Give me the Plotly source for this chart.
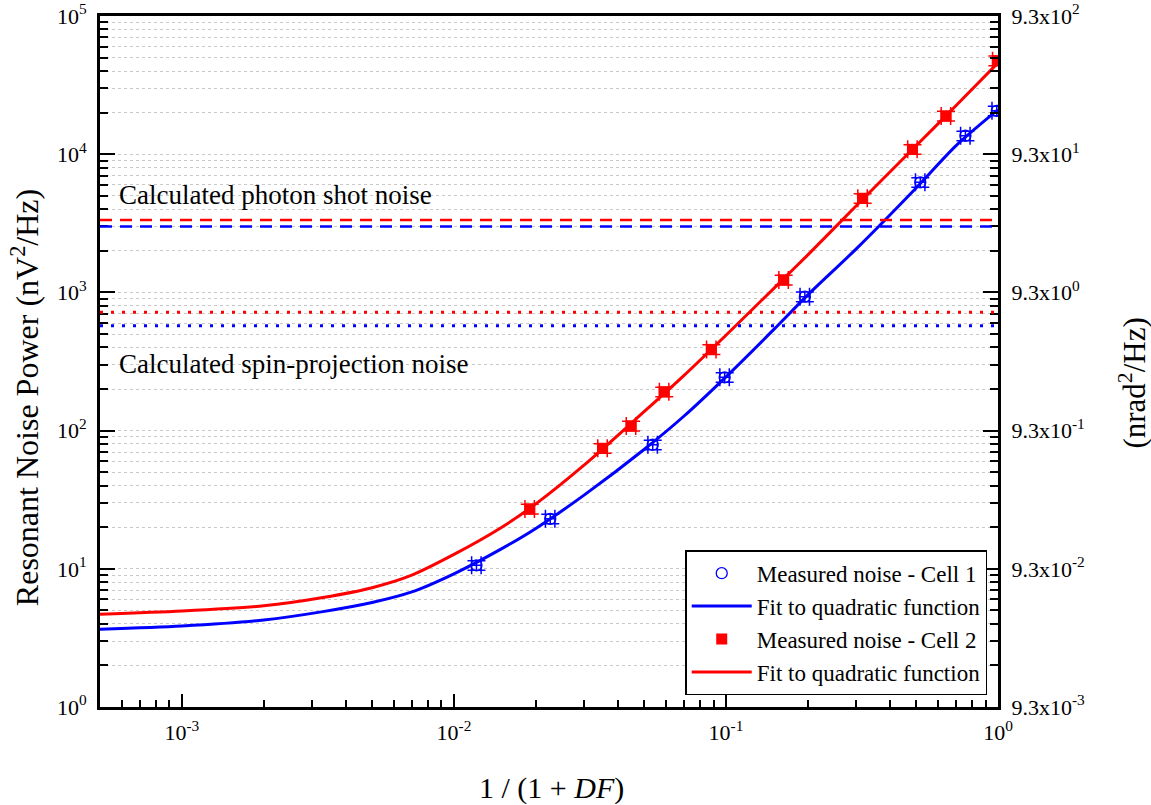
import math
import plotly.graph_objects as go

# ---------------- data ----------------
cell1_x = [0.0121, 0.0226, 0.0538, 0.0989, 0.195, 0.518, 0.759, 0.99]
cell1_y = [10.6, 23.0, 79.0, 243, 931, 6260, 13600, 20600]

cell2_x = [0.019, 0.0352, 0.0448, 0.0593, 0.0884, 0.163, 0.318, 0.485, 0.644, 0.995]
cell2_y = [27.1, 74.5, 108, 191, 387, 1230, 4800, 10850, 18900, 47500]

fit_x = [5e-4, 1e-3, 2e-3, 3.3e-3, 5e-3, 7e-3, 0.01, 0.015, 0.02, 0.03,
         0.05, 0.07, 0.1, 0.15, 0.2, 0.3, 0.5, 0.7, 1.0]
fit1_y = [3.65, 3.85, 4.26, 4.9, 5.7, 6.8, 9.2, 14.0, 19.6, 34,
          73, 127, 245, 540, 960, 2050, 5700, 11500, 21000]
fit2_y = [4.69, 4.95, 5.4, 6.2, 7.3, 9.0, 12.7, 20.0, 29.5, 56,
          137, 250, 490, 1070, 1870, 4200, 11500, 22400, 45800]

shot_noise = {"cell1": 3000, "cell2": 3340}
spin_noise = {"cell1": 574, "cell2": 718}

x_err_pct = 4.0
y_err_pct = 8.0

x_range = [5e-4, 1.0]
y_range = [1.0, 1e5]
nrad_per_nv = 9.3e-3   # right axis scale factor

x_tick_exps = [-3, -2, -1, 0]
y_tick_exps = [0, 1, 2, 3, 4, 5]

BLUE = "#0000ff"
RED = "#ff0000"
FONT = "Liberation Serif, Times New Roman, serif"


def minor_vals(lo_exp, hi_exp, scale=1.0):
    return [scale * m * 10 ** k for k in range(lo_exp, hi_exp) for m in range(2, 10)]


fig = go.Figure()

fig.add_trace(go.Scatter(
    x=cell1_x, y=cell1_y, mode="markers", name="Measured noise - Cell 1",
    marker=dict(symbol="circle-open", size=11, color=BLUE, line=dict(width=1.3, color=BLUE)),
    error_x=dict(type="percent", value=x_err_pct, color=BLUE, thickness=1.5, width=9),
    error_y=dict(type="percent", value=y_err_pct, color=BLUE, thickness=1.5, width=9),
))
fig.add_trace(go.Scatter(
    x=fit_x, y=fit1_y, mode="lines", name="Fit to quadratic function",
    line=dict(color=BLUE, width=3, shape="spline", smoothing=0.8),
))
fig.add_trace(go.Scatter(
    x=cell2_x, y=cell2_y, mode="markers", name="Measured noise - Cell 2",
    marker=dict(symbol="square", size=11, color=RED),
    error_x=dict(type="percent", value=x_err_pct, color=RED, thickness=1.5, width=9),
    error_y=dict(type="percent", value=y_err_pct, color=RED, thickness=1.5, width=9),
))
fig.add_trace(go.Scatter(
    x=fit_x, y=fit2_y, mode="lines", name="Fit to quadratic function",
    line=dict(color=RED, width=3, shape="spline", smoothing=0.8),
))
# invisible trace to anchor the right-hand axis
fig.add_trace(go.Scatter(x=[x_range[0]], y=[y_range[0] * nrad_per_nv], yaxis="y2",
                         mode="markers", marker=dict(opacity=0), showlegend=False,
                         hoverinfo="skip"))

# reference noise levels
for val, col in [(shot_noise["cell2"], RED), (shot_noise["cell1"], BLUE)]:
    fig.add_shape(type="line", xref="x domain", yref="y", x0=0, x1=1, y0=val, y1=val,
                  line=dict(color=col, width=2.5, dash="12px,8px"))
for val, col in [(spin_noise["cell2"], RED), (spin_noise["cell1"], BLUE)]:
    fig.add_shape(type="line", xref="x domain", yref="y", x0=0, x1=1, y0=val, y1=val,
                  line=dict(color=col, width=3, dash="3px,8px"))

fig.add_annotation(text="Calculated photon shot noise", xref="paper", yref="paper",
                   x=0.019, y=0.741, xanchor="left", yanchor="middle", showarrow=False,
                   font=dict(family=FONT, size=27, color="black"))
fig.add_annotation(text="Calculated spin-projection noise", xref="paper", yref="paper",
                   x=0.019, y=0.496, xanchor="left", yanchor="middle", showarrow=False,
                   font=dict(family=FONT, size=27, color="black"))

# axis titles
fig.add_annotation(text="Resonant Noise Power (nV<sup>2</sup>/Hz)", xref="paper", yref="paper",
                   x=-0.0835, y=0.447, xanchor="center", yanchor="middle", textangle=-90,
                   showarrow=False, font=dict(family=FONT, size=32, color="black"))
fig.add_annotation(text="(nrad<sup>2</sup>/Hz)", xref="paper", yref="paper",
                   x=1.150, y=0.469, xanchor="center", yanchor="middle", textangle=-90,
                   showarrow=False, font=dict(family=FONT, size=31, color="black"))
fig.add_annotation(text="1 / (1 + <i>DF</i>)", xref="paper", yref="paper",
                   x=0.503, y=-0.117, xanchor="center", yanchor="middle",
                   showarrow=False, font=dict(family=FONT, size=30, color="black"))

axis_font = dict(family=FONT, size=22, color="black")

fig.update_layout(
    width=1151, height=805,
    margin=dict(l=100, r=153, t=16, b=98, autoexpand=False),
    paper_bgcolor="white", plot_bgcolor="white",
    font=dict(family=FONT, color="black"),
    showlegend=True,
    legend=dict(x=0.988, y=0.017, xanchor="right", yanchor="bottom",
                bordercolor="black", borderwidth=1.5, bgcolor="white",
                font=dict(family=FONT, size=23, color="black"),
                tracegroupgap=0, itemwidth=60),
    xaxis=dict(
        type="log", range=[math.log10(x_range[0]), math.log10(x_range[1])],
        tickvals=[10 ** e for e in x_tick_exps],
        ticktext=[f"10<sup>{e}</sup>" for e in x_tick_exps],
        ticks="inside", ticklen=13, tickwidth=2, tickcolor="black",
        minor=dict(tickvals=minor_vals(-4, 0), ticks="inside", ticklen=7,
                   tickwidth=2, tickcolor="black", showgrid=False),
        showline=True, linewidth=3, linecolor="black", mirror=True,
        showgrid=False, zeroline=False, tickfont=axis_font, ticklabelstandoff=4,
        automargin=False,
    ),
    yaxis=dict(
        type="log", range=[math.log10(y_range[0]), math.log10(y_range[1])],
        tickvals=[10 ** e for e in y_tick_exps],
        ticktext=[f"10<sup>{e}</sup>" for e in y_tick_exps],
        ticks="inside", ticklen=15, tickwidth=2, tickcolor="black",
        minor=dict(tickvals=minor_vals(0, 5), ticks="inside", ticklen=8,
                   tickwidth=2, tickcolor="black", showgrid=True,
                   gridcolor="#c8c8c8", gridwidth=1, griddash="dot"),
        showgrid=True, gridcolor="#c8c8c8", gridwidth=1, griddash="dot",
        showline=True, linewidth=3, linecolor="black", mirror=False,
        zeroline=False, tickfont=axis_font, ticklabelstandoff=6, automargin=False,
    ),
    yaxis2=dict(
        type="log", overlaying="y", side="right",
        range=[math.log10(y_range[0] * nrad_per_nv), math.log10(y_range[1] * nrad_per_nv)],
        tickvals=[nrad_per_nv * 10 ** e for e in y_tick_exps],
        ticktext=[f"9.3x10<sup>{e - 3}</sup>" for e in y_tick_exps],
        ticks="inside", ticklen=15, tickwidth=2, tickcolor="black",
        minor=dict(tickvals=minor_vals(0, 5, nrad_per_nv), ticks="inside", ticklen=8,
                   tickwidth=2, tickcolor="black", showgrid=False),
        showgrid=False, showline=True, linewidth=3, linecolor="black",
        zeroline=False, tickfont=axis_font, ticklabelstandoff=6, automargin=False,
    ),
)

fig.write_html("out.html")
